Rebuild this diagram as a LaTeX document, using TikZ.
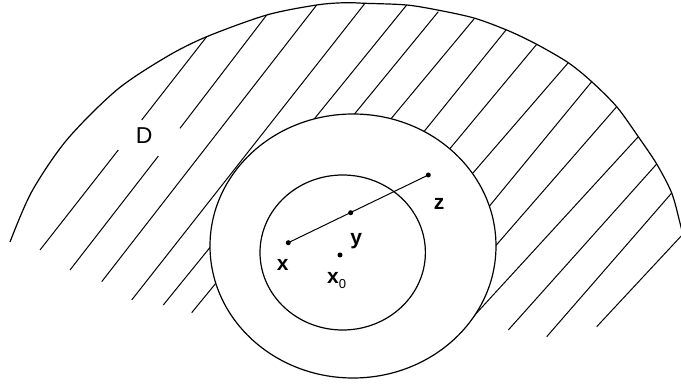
\documentclass[tikz,border=0pt]{standalone}
\usepackage{fontspec}
\setmainfont{Liberation Sans}
\begin{document}
\begin{tikzpicture}[x=1pt,y=-1pt,
    rim/.style={line width=1.2pt},
    hatch/.style={line width=1pt},
    lbl/.style={font=\fontsize{23}{23}\selectfont, inner sep=0pt, anchor=base},
    pt/.style={lbl, font=\fontsize{21}{21}\selectfont\bfseries}]
    \useasboundingbox (0,0) rectangle (681,385);
    \clip (0,0) rectangle (681,385);
    % Hatching of D
    \foreach \xa/\ya/\xb/\yb in {206.7/36.7/141.7/120, 118.3/150/40/250,
        266.7/15/180/128.3, 158.4/156/70/270, 316.7/5/101.7/281.7,
        365/3.3/131.7/300, 406.7/5/163.3/305, 438.3/11.7/191.7/312.7,
        474/19/380/132, 506/30/414/144, 536.7/44.3/438/163,
        568.3/62.7/460/188, 591.7/81.7/478/220, 616.7/106.7/485/258,
        638.3/136.7/462/329, 656.7/164/508.3/330, 671.7/193/546.7/336.7,
        684/233/596.7/326.7}
        \draw[hatch] (\xa,\ya) -- (\xb,\yb);
    % Boundary of D
    \draw[rim] plot[smooth] coordinates {(10,242) (31.7,191.7) (66.7,140)
        (116.7,90) (166.7,56.7) (206.7,36.7) (266.7,15) (316.7,5) (345,2.7)
        (365,3.3) (406.7,5) (440,10.5) (475,18.3) (508.3,30.7) (536.7,44.3)
        (568.3,62.7) (591.7,81.7) (616.7,106.7) (638.3,136.7) (656.7,164)
        (671.7,193) (680,223) (686,248)};
    % Circles
    \filldraw[rim, fill=white] (353,246) ellipse [x radius=143, y radius=132];
    \draw[rim] (342.7,252.5) ellipse [x radius=82.7, y radius=77.5];
    % Points
    \coordinate (x) at (288.3,242.7);
    \coordinate (y) at (350.7,212.7);
    \coordinate (z) at (428.3,175);
    \coordinate (x0) at (340,255);
    \draw[hatch] (x) -- (z);
    \foreach \p in {x,y,z,x0}
        \fill (\p) circle (2.5);
    % Labels
    \node[lbl] (lD) at (144.2,144) {D};
    \node[pt] (lx) at (282.8,270) {x};
    \node[pt] (ly) at (356.3,245) {y};
    \node[pt] (lz) at (439,209.3) {z};
    \node[pt, anchor=base west] (lx0) at (327,283.3)
        {x\raisebox{-5pt}{\fontsize{13}{13}\selectfont\mdseries 0}};
\end{tikzpicture}
\end{document}
